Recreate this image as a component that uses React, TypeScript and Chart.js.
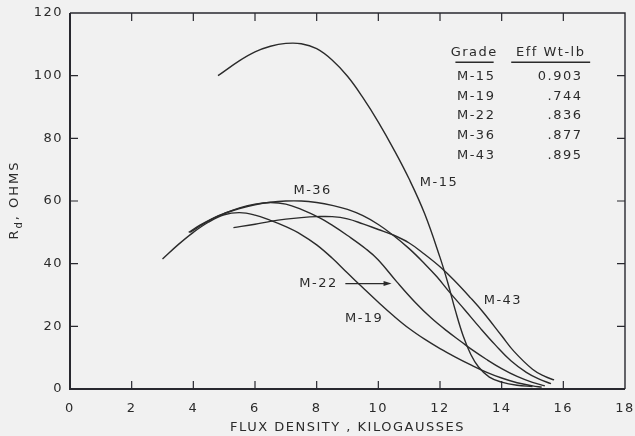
import React, { useEffect, useRef } from "react";
import { Chart, registerables } from "chart.js";

Chart.register(...registerables);

// ---------- data ----------
const xTickValues = [0, 2, 4, 6, 8, 10, 12, 14, 16, 18];
const yTickValues = [0, 20, 40, 60, 80, 100, 120];

const grades = ["M-15", "M-19", "M-22", "M-36", "M-43"];
const effWt = ["0.903", ".744", ".836", ".877", ".895"];

const m15X = [4.8, 5.5, 6, 6.5, 7, 7.5, 8, 8.5, 9, 9.5, 10, 10.5, 11, 11.5, 12, 12.25, 12.5, 12.75, 13, 13.25, 13.6, 14, 14.5, 15];
const m15Y = [100, 104.8, 107.6, 109.4, 110.3, 110.2, 108.6, 105, 99.8, 93, 85.2, 76.5, 67, 56, 42, 34, 25, 17, 11, 7, 3.8, 2.2, 1.2, 0.8];

const m19X = [3, 3.5, 4, 4.5, 5, 5.5, 6, 6.5, 7, 7.5, 8, 8.5, 9, 9.5, 10, 10.5, 11, 11.5, 12, 12.5, 13, 13.5, 14, 14.5, 15, 15.3];
const m19Y = [41.5, 46, 50, 53.3, 55.6, 56.3, 55.5, 53.8, 51.8, 49.3, 46, 41.8, 37, 32.3, 27.7, 23.3, 19.3, 15.9, 12.9, 10.2, 7.7, 5.4, 3.5, 2.0, 1.0, 0.6];

const m22X = [3.85, 4.2, 4.6, 5, 5.5, 6, 6.5, 7, 7.5, 8.1, 8.5, 9, 9.6, 10, 10.6, 11.2, 11.7, 12.2, 12.7, 13, 13.5, 14, 14.5, 15, 15.4];
const m22Y = [50, 52.2, 54.3, 56, 57.8, 59, 59.5, 59, 57.3, 54.6, 52.3, 49, 44.7, 41.2, 34.2, 27.6, 22.8, 18.7, 15, 12.8, 9.5, 6.5, 4, 2.1, 1.0];

const m36X = [3.9, 4.3, 4.7, 5, 5.5, 6, 6.5, 7, 7.5, 8, 8.5, 9, 9.5, 10, 10.45, 11, 11.5, 11.9, 12.3, 12.8, 13.3, 13.8, 14.3, 14.8, 15.2, 15.6];
const m36Y = [50, 52.5, 54.8, 56, 57.6, 58.8, 59.6, 60, 60, 59.5, 58.6, 57.3, 55.3, 52.5, 49.3, 44.8, 40, 35.8, 31, 25.3, 19.5, 14, 9, 5.3, 3.2, 1.7];

const m43X = [5.3, 6, 6.5, 7, 7.5, 8, 8.5, 9, 9.5, 10, 10.45, 11, 11.5, 12, 12.45, 13, 13.4, 14, 14.4, 15, 15.4, 15.7];
const m43Y = [51.5, 52.6, 53.5, 54.2, 54.7, 55, 55, 54.3, 52.7, 50.9, 49.3, 46.6, 43, 39, 34.8, 29, 24.5, 17, 12, 6.3, 4, 2.9];

// curve label anchor points (data units), same order as grades
const curveLabelX = [11.97, 9.54, 8.06, 7.87, 14.04];
const curveLabelY = [66, 22.5, 33.65, 63.2, 28.25];

const INK = "#2b2b2b";
const FRAME = "#28282f";
const BG = "#f1f1f1";
const FONT = "'DejaVu Sans', sans-serif";

export default function App() {
  const ref = useRef<HTMLCanvasElement>(null);

  useEffect(() => {
    const canvas = ref.current as HTMLCanvasElement;
    const mk = (xs: number[], ys: number[]) => xs.map((x, i) => ({ x, y: ys[i] }));
    const series = [mk(m15X, m15Y), mk(m19X, m19Y), mk(m22X, m22Y), mk(m36X, m36Y), mk(m43X, m43Y)];

    const bgPlugin = {
      id: "bg",
      beforeDraw(chart: any) {
        const ctx = chart.ctx;
        ctx.save();
        ctx.fillStyle = BG;
        ctx.fillRect(0, 0, chart.width, chart.height);
        ctx.restore();
        ctx.letterSpacing = "1.5px";
      },
    };

    const framePlugin = {
      id: "plotframe",
      afterDatasetsDraw(chart: any) {
        const ctx = chart.ctx;
        const xs = chart.scales.x;
        const ys = chart.scales.y;
        const L = xs.getPixelForValue(0);
        const R = xs.getPixelForValue(18);
        const T = ys.getPixelForValue(120);
        const B = ys.getPixelForValue(0);
        ctx.save();
        ctx.strokeStyle = FRAME;
        ctx.lineWidth = 2;
        ctx.beginPath();
        ctx.moveTo(L, T);
        ctx.lineTo(L, B);
        ctx.lineTo(R, B);
        ctx.stroke();
        ctx.lineWidth = 1.4;
        ctx.beginPath();
        ctx.moveTo(L, T);
        ctx.lineTo(R, T);
        ctx.lineTo(R, B);
        ctx.stroke();
        const TL = 8;
        ctx.lineWidth = 1.2;
        ctx.beginPath();
        xTickValues.slice(1, -1).forEach((v) => {
          const px = xs.getPixelForValue(v);
          ctx.moveTo(px, B);
          ctx.lineTo(px, B - TL);
          ctx.moveTo(px, T);
          ctx.lineTo(px, T + TL);
        });
        yTickValues.slice(1, -1).forEach((v) => {
          const py = ys.getPixelForValue(v);
          ctx.moveTo(L, py);
          ctx.lineTo(L + TL, py);
          ctx.moveTo(R, py);
          ctx.lineTo(R - TL, py);
        });
        ctx.stroke();
        ctx.restore();
      },
    };

    const textPlugin = {
      id: "texts",
      afterDraw(chart: any) {
        const ctx = chart.ctx;
        const xs = chart.scales.x;
        const ys = chart.scales.y;
        ctx.save();
        ctx.fillStyle = INK;
        ctx.strokeStyle = INK;

        // y axis title with subscript
        ctx.save();
        ctx.letterSpacing = "2px";
        ctx.translate(15, 200);
        ctx.rotate(-Math.PI / 2);
        ctx.textBaseline = "middle";
        ctx.textAlign = "left";
        const main = `13px ${FONT}`;
        const sub = `10px ${FONT}`;
        ctx.font = main;
        const wR = ctx.measureText("R").width;
        ctx.font = sub;
        const wd = ctx.measureText("d").width;
        ctx.font = main;
        const wRest = ctx.measureText(", OHMS").width;
        let cx = -(wR + wd + wRest) / 2;
        ctx.fillText("R", cx, 0);
        cx += wR;
        ctx.font = sub;
        ctx.fillText("d", cx, 4);
        cx += wd;
        ctx.font = main;
        ctx.fillText(", OHMS", cx, 0);
        ctx.restore();

        // curve labels
        ctx.letterSpacing = "1.5px";
        ctx.font = `13px ${FONT}`;
        ctx.textAlign = "center";
        ctx.textBaseline = "middle";
        grades.forEach((g, i) => {
          ctx.fillText(g, xs.getPixelForValue(curveLabelX[i]), ys.getPixelForValue(curveLabelY[i]));
        });
        // M-22 arrow
        const ay = ys.getPixelForValue(33.65);
        const ax0 = xs.getPixelForValue(8.93);
        const ax1 = xs.getPixelForValue(10.43);
        ctx.lineWidth = 1.2;
        ctx.beginPath();
        ctx.moveTo(ax0, ay);
        ctx.lineTo(ax1 - 6, ay);
        ctx.stroke();
        ctx.beginPath();
        ctx.moveTo(ax1, ay);
        ctx.lineTo(ax1 - 8, ay - 2.5);
        ctx.lineTo(ax1 - 8, ay + 2.5);
        ctx.closePath();
        ctx.fill();

        // table
        const hy = ys.getPixelForValue(107.3);
        ctx.fillText("Grade", xs.getPixelForValue(13.11), hy);
        ctx.fillText("Eff Wt-lb", xs.getPixelForValue(15.59), hy);
        const uy = ys.getPixelForValue(104.3);
        ctx.lineWidth = 1.5;
        ctx.beginPath();
        ctx.moveTo(xs.getPixelForValue(12.5), uy);
        ctx.lineTo(xs.getPixelForValue(13.74), uy);
        ctx.moveTo(xs.getPixelForValue(14.31), uy);
        ctx.lineTo(xs.getPixelForValue(16.87), uy);
        ctx.stroke();
        const rowY = [99.7, 93.4, 87.1, 80.8, 74.5];
        grades.forEach((g, i) => {
          const py = ys.getPixelForValue(rowY[i]);
          ctx.textAlign = "left";
          ctx.fillText(g, xs.getPixelForValue(12.55), py);
          ctx.textAlign = "right";
          ctx.fillText(effWt[i], xs.getPixelForValue(16.62), py);
        });
        ctx.restore();
        ctx.letterSpacing = "0px";
      },
    };

    const chart = new Chart(canvas, {
      type: "line",
      data: {
        datasets: grades.map((g, i) => ({
          label: g,
          data: series[i],
          borderColor: INK,
          borderWidth: 1.4,
          pointRadius: 0,
          fill: false,
          tension: 0.4,
        })),
      },
      options: {
        animation: false,
        responsive: false,
        devicePixelRatio: 1,
        layout: { padding: { top: 13, right: 10, left: 0, bottom: 0 } },
        plugins: { legend: { display: false }, tooltip: { enabled: false } },
        scales: {
          x: {
            type: "linear",
            min: 0,
            max: 18,
            afterBuildTicks: (s: any) => {
              s.ticks = xTickValues.map((v) => ({ value: v }));
            },
            ticks: { font: { family: FONT, size: 13 }, color: INK, padding: 12, maxRotation: 0, autoSkip: false },
            grid: { display: false, drawTicks: false },
            border: { display: false },
            title: {
              display: true,
              text: "FLUX DENSITY , KILOGAUSSES",
              font: { family: FONT, size: 13 },
              color: INK,
              padding: { top: 0, bottom: 1 },
            },
            afterFit: (s: any) => {
              s.height = 47;
              s.paddingLeft = 0;
              s.paddingRight = 0;
            },
          },
          y: {
            type: "linear",
            min: 0,
            max: 120,
            afterBuildTicks: (s: any) => {
              s.ticks = yTickValues.map((v) => ({ value: v }));
            },
            ticks: { font: { family: FONT, size: 13 }, color: INK, padding: 7 },
            grid: { display: false, drawTicks: false },
            border: { display: false },
            afterFit: (s: any) => {
              s.width = 70;
              s.paddingTop = 0;
              s.paddingBottom = 0;
            },
          },
        },
      },
      plugins: [bgPlugin, framePlugin, textPlugin],
    });
    return () => chart.destroy();
  }, []);

  return (
    <div style={{ position: "absolute", left: 0, top: 0, width: 635, height: 436, background: BG }}>
      <canvas ref={ref} width={635} height={436} />
    </div>
  );
}
